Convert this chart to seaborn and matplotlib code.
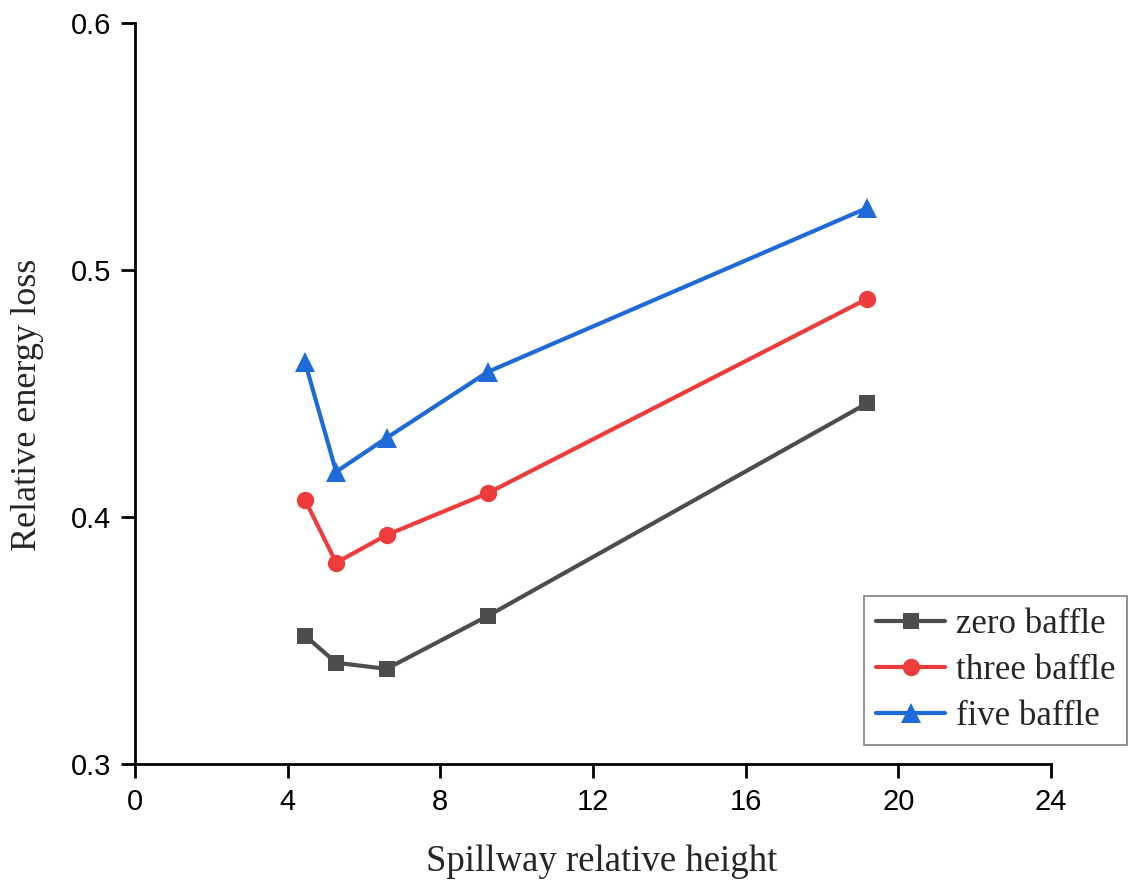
import numpy as np
import pandas as pd
import matplotlib
matplotlib.use("Agg")
import matplotlib.pyplot as plt
import seaborn as sns

# 数据
heights = [4.45, 5.27, 6.59, 9.25, 19.18]
zero_baffle = [0.352, 0.341, 0.3385, 0.360, 0.446]
three_baffle = [0.407, 0.3815, 0.3927, 0.4097, 0.4883]
five_baffle = [0.4629, 0.4183, 0.432, 0.4588, 0.5251]
series_names = ["zero baffle", "three baffle", "five baffle"]

df = pd.DataFrame({
    "height": heights * 3,
    "loss": zero_baffle + three_baffle + five_baffle,
    "case": np.repeat(series_names, len(heights)),
})

sns.set_theme(style="ticks")
plt.rcParams['font.family'] = ['Liberation Sans', 'DejaVu Sans']

palette = {"zero baffle": "#4d4d4d", "three baffle": "#ee3b3b", "five baffle": "#1f6ad9"}
markers = {"zero baffle": "s", "three baffle": "o", "five baffle": "^"}
msizes = {"zero baffle": 11.5, "three baffle": 12.5, "five baffle": 14.5}

fig = plt.figure(figsize=(11.32, 8.82), dpi=100)
ax = fig.add_axes([0.1193, 0.1338, 0.8091, 0.8401])

sns.lineplot(data=df, x="height", y="loss", hue="case", style="case",
             palette=palette, markers=markers, dashes=False,
             linewidth=3, markersize=12, markeredgewidth=0, ax=ax)

# 每条线的标记大小不同
for line, name in zip(ax.lines, series_names):
    line.set_markersize(msizes[name])

ax.set_xlim(0, 24)
ax.set_ylim(0.3, 0.6)
ax.set_xticks(np.arange(0, 25, 4))
ax.set_yticks([0.3, 0.4, 0.5, 0.6])
ax.set_yticklabels(["0.3", "0.4", "0.5", "0.6"])

for side in ["top", "right"]:
    ax.spines[side].set_visible(False)
for side in ["left", "bottom"]:
    ax.spines[side].set_linewidth(2)
    ax.spines[side].set_color("black")
ax.tick_params(direction="out", length=10, width=2, labelsize=21, pad=7, colors="black")

serif = ['Liberation Serif', 'DejaVu Serif']
ax.set_xlabel("Spillway relative height", fontsize=26.5, family=serif)
ax.set_ylabel("Relative energy loss", fontsize=26, family=serif)
ax.xaxis.set_label_coords(0.509, -0.108)
ax.yaxis.set_label_coords(-0.099, 0.485)

leg = ax.legend(loc="lower right", bbox_to_anchor=(0.996, 0.155), bbox_transform=fig.transFigure,
                fancybox=False, frameon=True, edgecolor="#808080", framealpha=1,
                prop={'family': serif, 'size': 25}, handlelength=2.0, borderpad=0.35,
                labelspacing=0.37, handletextpad=0.3, borderaxespad=0)
leg.get_frame().set_linewidth(1.2)
for h, name in zip(leg.legend_handles, series_names):
    h.set_markersize(msizes[name])

fig.savefig("out.png", dpi=100)
